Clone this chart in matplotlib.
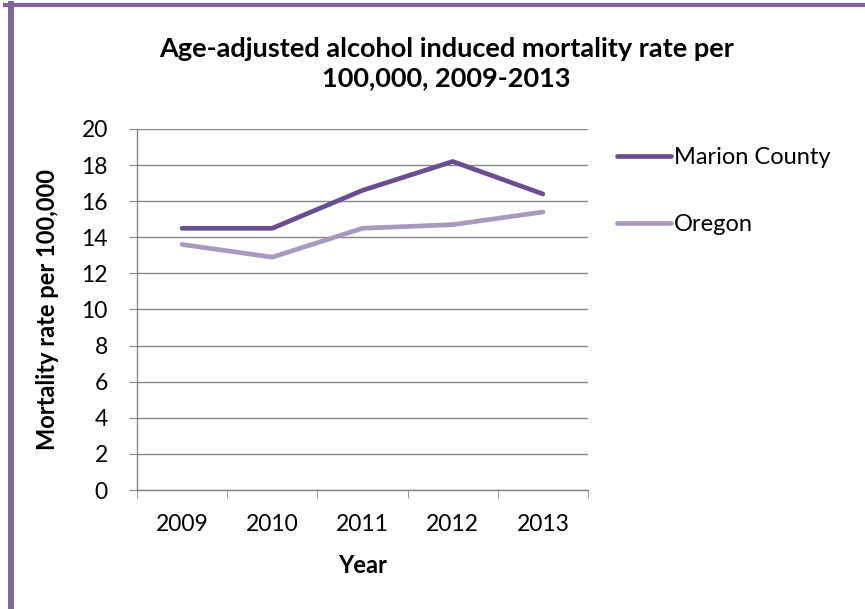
import matplotlib
matplotlib.use("Agg")
import matplotlib.pyplot as plt
from matplotlib.lines import Line2D

# chart data
years = ["2009", "2010", "2011", "2012", "2013"]
marion = [14.5, 14.5, 16.6, 18.2, 16.4]
oregon = [13.6, 12.9, 14.5, 14.7, 15.4]

plt.rcParams['font.family'] = ['Lato', 'DejaVu Sans']

fig = plt.figure(figsize=(8.65, 6.09), dpi=100)
ax = fig.add_axes([0.1584, 0.1954, 0.5214, 0.5928])

grid_col = '#868686'
x = list(range(len(years)))
ax.plot(x, marion, color='#6B4E91', linewidth=3.4, solid_capstyle='round', label='Marion County', zorder=3)
ax.plot(x, oregon, color='#A899C1', linewidth=3.4, solid_capstyle='round', label='Oregon', zorder=3)

ax.set_xlim(-0.5, len(years) - 0.5)
ax.set_ylim(0, 20)
ax.set_yticks(range(0, 21, 2))
ax.yaxis.grid(True, color=grid_col, linewidth=1)
ax.set_axisbelow(True)

ax.set_xticks(x)
ax.set_xticklabels(years)
ax.set_xticks([i - 0.5 for i in range(len(years) + 1)], minor=True)
ax.tick_params(axis='x', which='major', length=0, pad=17, labelsize=16.5)
ax.tick_params(axis='x', which='minor', length=6, color=grid_col, direction='out')
ax.tick_params(axis='y', length=6, color=grid_col, labelsize=16.5, pad=15)

for s in ['top', 'right']:
    ax.spines[s].set_visible(False)
for s in ['left', 'bottom']:
    ax.spines[s].set_color(grid_col)
    ax.spines[s].set_linewidth(1)

ax.set_xlabel('Year', fontsize=17, fontweight='bold', labelpad=14)
ax.set_ylabel('Mortality rate per 100,000', fontsize=17, fontweight='bold', labelpad=16)

fig.text(0.516, 0.8957, 'Age-adjusted alcohol induced mortality rate per\n100,000, 2009-2013',
         ha='center', va='center', fontsize=19.5, fontweight='bold', linespacing=1.25)

ax.legend(loc='upper left', bbox_to_anchor=(1.043, 0.975), frameon=False, fontsize=17,
          handlelength=2.3, handletextpad=0.1, labelspacing=1.95, borderaxespad=0)

# purple frame on top and left
fig.add_artist(Line2D([0.006, 1.0], [0.991, 0.991], transform=fig.transFigure, color='#8064A2', linewidth=3.0))
fig.add_artist(Line2D([0.0127, 0.0127], [0.0, 0.993], transform=fig.transFigure, color='#8064A2', linewidth=4.3))

fig.savefig('out.png', dpi=100)
